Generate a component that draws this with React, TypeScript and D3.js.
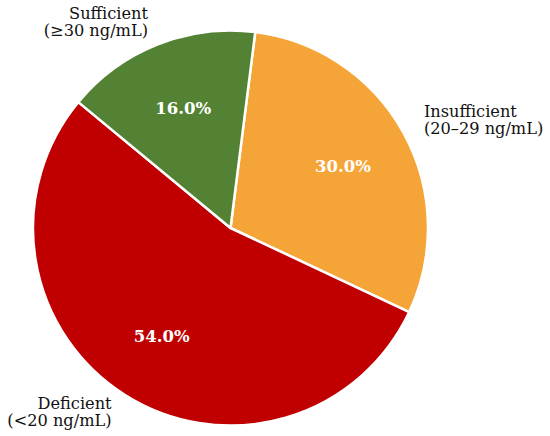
import React, { useRef, useEffect } from 'react';
import * as d3 from 'd3';

const categories = ['Insufficient', 'Deficient', 'Sufficient'];
const labelLines = [
  ['Insufficient', '(20–29 ng/mL)'],
  ['Deficient', '(<20 ng/mL)'],
  ['Sufficient', '(≥30 ng/mL)'],
];
const shares = [30, 54, 16];
const colors = ['#F5A537', '#C00000', '#548235'];

function App(): React.ReactElement {
  const ref = useRef<SVGSVGElement | null>(null);

  useEffect(() => {
    document.body.style.margin = '0';
    if (!ref.current) return;
    const width = 550;
    const height = 436;
    const cx = 230.5;
    const cy = 228;
    const r = 197.5;

    const svg = d3.select(ref.current);
    svg.selectAll('*').remove();

    const data = categories.map((c, i) => ({ name: c, value: shares[i], lines: labelLines[i], color: colors[i] }));
    const total = d3.sum(shares);
    const start = 0.02 * 2 * Math.PI;

    const pie = d3
      .pie<(typeof data)[number]>()
      .value(d => d.value)
      .sort(null)
      .startAngle(start)
      .endAngle(start + 2 * Math.PI);

    const arcs = pie(data);
    const arc = d3.arc<d3.PieArcDatum<(typeof data)[number]>>().innerRadius(0).outerRadius(r);

    const g = svg.append('g').attr('transform', `translate(${cx},${cy})`);

    g.selectAll('path.slice')
      .data(arcs)
      .join('path')
      .attr('class', 'slice')
      .attr('d', arc)
      .attr('fill', d => d.data.color)
      .attr('stroke', '#fff')
      .attr('stroke-width', 2.5)
      .attr('stroke-linejoin', 'round');

    const mid = (d: d3.PieArcDatum<unknown>) => (d.startAngle + d.endAngle) / 2;

    // percentage labels
    g.selectAll('text.pct')
      .data(arcs)
      .join('text')
      .attr('class', 'pct')
      .attr('x', d => Math.sin(mid(d)) * r * 0.65)
      .attr('y', d => -Math.cos(mid(d)) * r * 0.65)
      .attr('text-anchor', 'middle')
      .attr('dominant-baseline', 'central')
      .attr('fill', '#fff')
      .style('font-family', '"DejaVu Serif", serif')
      .style('font-weight', 'bold')
      .style('font-size', '16.5px')
      .text(d => `${((d.data.value / total) * 100).toFixed(1)}%`);

    // category labels
    const lab = g.selectAll('text.lab')
      .data(arcs)
      .join('text')
      .attr('class', 'lab')
      .attr('text-anchor', d => (Math.sin(mid(d)) > 0 ? 'start' : 'end'))
      .attr('fill', '#111')
      .style('font-family', '"DejaVu Serif", serif')
      .style('font-size', '16.2px');

    lab.each(function (d) {
      const s = Math.sin(mid(d));
      const c = Math.cos(mid(d));
      const x = s * r * 1.1 + (s > 0 ? 3 : -2.5);
      const y = -c * r * 1.1 - 5 - 2.5 * c;
      const t = d3.select(this);
      d.data.lines.forEach((line, i) => {
        t.append('tspan')
          .attr('x', x)
          .attr('y', y + i * 17)
          .text(line);
      });
    });

    svg.attr('width', width).attr('height', height);
  }, []);

  return <svg ref={ref} width={550} height={436} style={{ display: 'block', background: '#fff' }} />;
}

export default App;
